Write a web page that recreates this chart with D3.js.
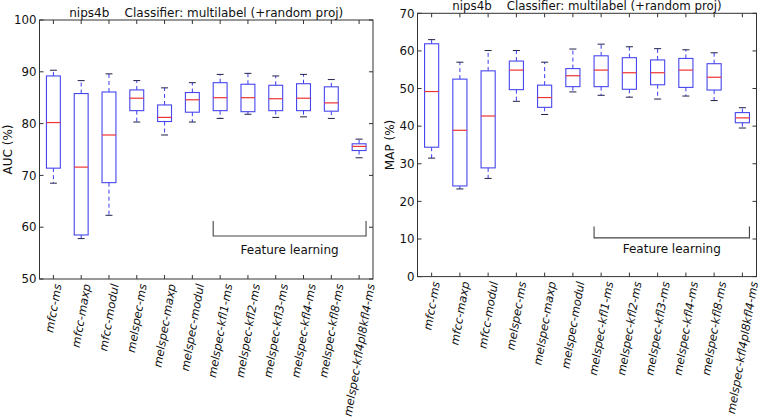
<!DOCTYPE html>
<html><head><meta charset="utf-8">
<script src="https://cdn.jsdelivr.net/npm/d3@7"></script>
<style>
body{margin:0;background:#fff;}
svg{display:block;font-family:"DejaVu Sans",sans-serif;}
</style></head>
<body><svg id="c" width="761" height="420"></svg>
<script>
const categories = ["mfcc-ms","mfcc-maxp","mfcc-modul","melspec-ms","melspec-maxp","melspec-modul",
  "melspec-kfl1-ms","melspec-kfl2-ms","melspec-kfl3-ms","melspec-kfl4-ms","melspec-kfl8-ms","melspec-kfl4pl8kfl4-ms"];
// AUC (%) : [lower whisker, Q1, median, Q3, upper whisker]
const aucLow  = [68.5, 57.8, 62.3, 80.3, 77.8, 80.3, 81.0, 81.8, 81.2, 81.3, 81.0, 73.4];
const aucQ1   = [71.4, 58.5, 68.6, 82.5, 80.4, 82.2, 82.5, 82.3, 82.5, 82.5, 82.4, 74.8];
const aucMed  = [80.2, 71.6, 77.8, 84.9, 81.2, 84.6, 85.0, 85.0, 84.8, 84.9, 84.0, 75.6];
const aucQ3   = [89.2, 85.8, 86.1, 86.5, 83.6, 86.0, 87.9, 87.6, 87.4, 87.7, 87.1, 76.1];
const aucHigh = [90.3, 88.3, 89.6, 88.3, 86.9, 87.9, 89.5, 89.7, 89.2, 89.5, 88.5, 77.0];
// MAP (%)
const mapLow  = [31.5, 23.3, 26.1, 46.6, 43.1, 49.1, 48.2, 47.7, 47.2, 48.0, 46.8, 39.5];
const mapQ1   = [34.4, 24.1, 28.9, 49.7, 45.0, 50.5, 50.5, 49.8, 51.0, 50.3, 49.6, 40.9];
const mapMed  = [49.2, 38.9, 42.7, 54.9, 47.6, 53.4, 54.9, 54.2, 54.2, 54.9, 53.0, 42.2];
const mapQ3   = [61.9, 52.5, 54.7, 57.3, 50.9, 55.3, 58.7, 58.2, 57.6, 58.0, 56.6, 43.6];
const mapHigh = [63.0, 57.0, 60.1, 60.1, 57.0, 60.5, 61.8, 61.1, 60.6, 60.3, 59.5, 44.9];
const aucTicks = [50, 60, 70, 80, 90, 100];
const mapTicks = [0, 10, 20, 30, 40, 50, 60, 70];
const titleText = "nips4b    Classifier: multilabel (+random proj)";
const bracketLabel = "Feature learning";

const svg = d3.select("#c");

function panel(cfg){
  const g = svg.append("g");
  const x = d3.scaleBand().domain(categories).range([cfg.x0, cfg.x1]);
  const y = d3.scaleLinear().domain(cfg.domain).range([cfg.y1, cfg.y0]);
  const cx = c => x(c) + x.bandwidth()/2;
  const bw = x.bandwidth()*0.5;
  const cw = bw*0.5;
  const data = categories.map((c,i)=>({c, lo:cfg.lo[i], q1:cfg.q1[i], med:cfg.med[i], q3:cfg.q3[i], hi:cfg.hi[i]}));

  // frame
  g.append("rect").attr("x",cfg.x0).attr("y",cfg.y0).attr("width",cfg.x1-cfg.x0).attr("height",cfg.y1-cfg.y0)
    .attr("fill","none").attr("stroke","#333").attr("stroke-width",1);

  // y ticks (inward, both sides)
  cfg.ticks.forEach(t=>{
    const yy = y(t);
    g.append("line").attr("x1",cfg.x0).attr("x2",cfg.x0+4).attr("y1",yy).attr("y2",yy).attr("stroke","#333");
    g.append("line").attr("x1",cfg.x1).attr("x2",cfg.x1-4).attr("y1",yy).attr("y2",yy).attr("stroke","#333");
    g.append("text").attr("x",cfg.x0-3).attr("y",yy).attr("dy","0.36em").attr("text-anchor","end")
      .attr("font-size",11.8).attr("fill","#111").text(t);
  });
  // x ticks (inward, top & bottom)
  categories.forEach(c=>{
    const xx = cx(c);
    g.append("line").attr("x1",xx).attr("x2",xx).attr("y1",cfg.y1).attr("y2",cfg.y1-4).attr("stroke","#333");
    g.append("line").attr("x1",xx).attr("x2",xx).attr("y1",cfg.y0).attr("y2",cfg.y0+4).attr("stroke","#333");
  });
  // rotated x labels, bbox centered on tick
  const ang = 80*Math.PI/180;
  categories.forEach(c=>{
    const t = g.append("text").attr("font-size",11.5).attr("font-style","italic").attr("fill","#111")
      .attr("text-anchor","middle").attr("dy","0.35em").text(c);
    const L = t.node().getComputedTextLength();
    const h = 11.5*1.0;
    const bh = L*Math.sin(ang) + h*Math.cos(ang);
    const xc = cx(c), yc = cfg.y1 + 4 + bh/2;
    t.attr("transform",`translate(${xc},${yc}) rotate(-80)`);
  });

  // boxes
  const bx = g.append("g");
  data.forEach(d=>{
    const xx = cx(d.c);
    bx.append("line").attr("x1",xx).attr("x2",xx).attr("y1",y(d.q3)).attr("y2",y(d.hi))
      .attr("stroke","#3c3cf0").attr("stroke-dasharray","4,3");
    bx.append("line").attr("x1",xx).attr("x2",xx).attr("y1",y(d.q1)).attr("y2",y(d.lo))
      .attr("stroke","#3c3cf0").attr("stroke-dasharray","4,3");
    bx.append("line").attr("x1",xx-cw/2).attr("x2",xx+cw/2).attr("y1",y(d.hi)).attr("y2",y(d.hi)).attr("stroke","#20204a");
    bx.append("line").attr("x1",xx-cw/2).attr("x2",xx+cw/2).attr("y1",y(d.lo)).attr("y2",y(d.lo)).attr("stroke","#20204a");
    bx.append("rect").attr("x",xx-bw/2).attr("y",y(d.q3)).attr("width",bw).attr("height",y(d.q1)-y(d.q3))
      .attr("fill","none").attr("stroke","#4646ee").attr("stroke-width",1.1);
    bx.append("line").attr("x1",xx-bw/2).attr("x2",xx+bw/2).attr("y1",y(d.med)).attr("y2",y(d.med))
      .attr("stroke","#ee3333").attr("stroke-width",1.2);
  });

  // bracket
  const bxL = cfg.x0 + (6.75-0.5)*x.bandwidth(), bxR = cfg.x0 + (12.25-0.5)*x.bandwidth();
  g.append("path").attr("d",`M${bxL},${y(cfg.brTop)}V${y(cfg.brBot)}H${bxR}V${y(cfg.brTop)}`)
    .attr("fill","none").attr("stroke","#444").attr("stroke-width",1.1);
  g.append("text").attr("x",(bxL+bxR)/2).attr("y",y(cfg.brText)).attr("text-anchor","middle")
    .attr("font-size",12).attr("fill","#111").text(bracketLabel);

  // title
  g.append("text").attr("x",(cfg.x0+cfg.x1)/2).attr("y",cfg.titleY).attr("text-anchor","middle")
    .attr("font-size",cfg.titleSize).attr("fill","#111").style("white-space","pre").text(titleText);
  // y label
  g.append("text").attr("transform",`translate(${cfg.ylx},${(cfg.y0+cfg.y1)/2}) rotate(-90)`)
    .attr("text-anchor","middle").attr("dy","0.35em").attr("font-size",12).attr("fill","#111").text(cfg.ylabel);
}

panel({x0:39.5, x1:373, y0:20, y1:279, domain:[50,100], ticks:aucTicks,
  lo:aucLow, q1:aucQ1, med:aucMed, q3:aucQ3, hi:aucHigh,
  brTop:61.2, brBot:58.3, brText:54.9, ylabel:"AUC (%)", ylx:8, titleY:16.5, titleSize:12});
panel({x0:417.5, x1:756.5, y0:13.3, y1:276.6, domain:[0,70], ticks:mapTicks,
  lo:mapLow, q1:mapQ1, med:mapMed, q3:mapQ3, hi:mapHigh,
  brTop:13.3, brBot:10.3, brText:6.4, ylabel:"MAP (%)", ylx:390, titleY:10, titleSize:11.8});
</script></body></html>
